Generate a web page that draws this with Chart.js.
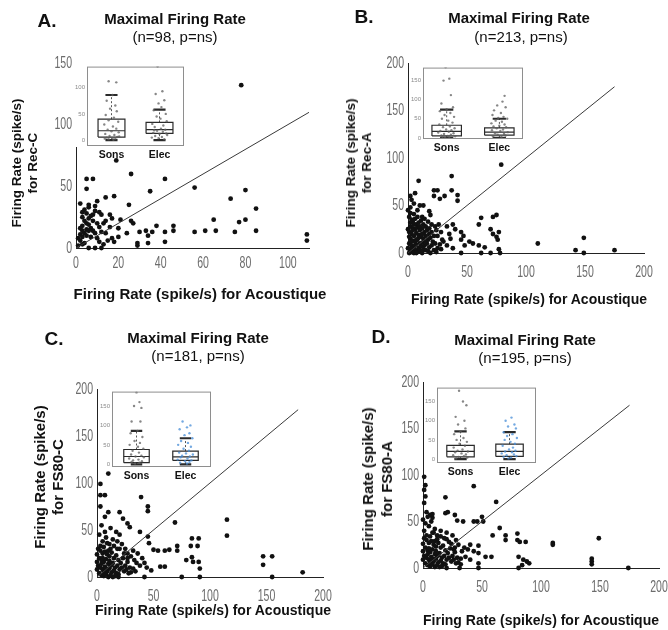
<!DOCTYPE html>
<html>
<head>
<meta charset="utf-8">
<script src="https://cdn.jsdelivr.net/npm/chart.js@4/dist/chart.umd.min.js"></script>
<style>
body { margin: 0; background: #fff; }
#wrap { position: relative; width: 668px; height: 630px; overflow: hidden; font-family: 'Liberation Sans', Arial, sans-serif; color: #111; }
canvas { position: absolute; }
.t { position: absolute; transform: translate(-50%, -50%); white-space: nowrap; z-index: 5; }
.letter { font-weight: bold; font-size: 19px; }
.ttl { font-weight: bold; font-size: 15px; }
.sub { font-size: 15px; }
.xt { font-weight: bold; font-size: 14px; }
.yt { font-weight: bold; font-size: 13.5px; text-align: center; line-height: 16px; transform: translate(-50%, -50%) rotate(-90deg); }
</style>
</head>
<body>
<div id="wrap">
  <canvas id="mainA" width="334" height="300" style="left:0;top:0"></canvas>
  <canvas id="mainB" width="334" height="300" style="left:334px;top:0"></canvas>
  <canvas id="mainC" width="334" height="330" style="left:0;top:300px"></canvas>
  <canvas id="mainD" width="334" height="330" style="left:334px;top:300px"></canvas>
  <canvas id="insetA" width="114" height="103" style="left:74px;top:61px"></canvas>
  <canvas id="insetB" width="117" height="95" style="left:410px;top:62px"></canvas>
  <canvas id="insetC" width="116" height="99" style="left:99px;top:386px"></canvas>
  <canvas id="insetD" width="115" height="99" style="left:425px;top:382px"></canvas>

  <div class="t letter" style="left:47px;top:21px">A.</div>
  <div class="t ttl" style="left:175px;top:18px">Maximal Firing Rate</div>
  <div class="t sub" style="left:175px;top:36px">(n=98, p=ns)</div>
  <div class="t yt" style="left:25px;top:163px">Firing Rate (spike/s)<br>for Rec-C</div>
  <div class="t xt" style="left:200px;top:293px;font-size:15px">Firing Rate (spike/s) for Acoustique</div>

  <div class="t letter" style="left:364px;top:17px">B.</div>
  <div class="t ttl" style="left:519px;top:17px">Maximal Firing Rate</div>
  <div class="t sub" style="left:521px;top:36px">(n=213, p=ns)</div>
  <div class="t yt" style="left:359px;top:163px">Firing Rate (spike/s)<br>for Rec-A</div>
  <div class="t xt" style="left:529px;top:299px">Firing Rate (spike/s) for Acoustique</div>

  <div class="t letter" style="left:54px;top:339px">C.</div>
  <div class="t ttl" style="left:198px;top:337px">Maximal Firing Rate</div>
  <div class="t sub" style="left:198px;top:355px">(n=181, p=ns)</div>
  <div class="t yt" style="left:49px;top:477px;font-size:15px;line-height:18px">Firing Rate (spike/s)<br>for FS80-C</div>
  <div class="t xt" style="left:213px;top:610px">Firing Rate (spike/s) for Acoustique</div>

  <div class="t letter" style="left:381px;top:337px">D.</div>
  <div class="t ttl" style="left:525px;top:339px">Maximal Firing Rate</div>
  <div class="t sub" style="left:525px;top:357px">(n=195, p=ns)</div>
  <div class="t yt" style="left:377px;top:479px;font-size:15px;line-height:19px">Firing Rate (spike/s)<br>for FS80-A</div>
  <div class="t xt" style="left:541px;top:620px">Firing Rate (spike/s) for Acoustique</div>
</div>

<script>
'use strict';

// scatter points: [rate for Acoustique, rate for the other condition]
var ptsA = [
	[78,132],[19,71],[26,60],[5,56],[8,56],[42,56],[5,48],[56,49],[35,46],[80,47],[73,40],[18,42],[14,41],[10,38],[2,36],[25,35],[85,32],
	[6,35],[6,33],[4,31],[9,34],[11,29],[8,27],[3,29],[3,25],[12,27],[7,26],[9,30],[5,28],[6,24],[8,22],[10,20],[13,20],[14,22],[16,27],[17,24],[21,23],[26,22],[27,20],[4,22],[5,20],[6,19],[3,18],[2,16],[11,17],[16,17],[20,16],
	[65,23],[77,21],[80,23],[38,18],[46,18],[46,14],[56,13],[61,14],[66,14],[75,13],[85,14],[109,11],[109,6],[42,13],[42,5],[30,13],[33,14],[34,10],[36,13],[29,4],[34,4],[29,2],[20,9],[17,8],[18,5],[24,12],
	[2,11],[3,9],[1,8],[5,15],[6,14],[7,16],[8,14],[4,12],[5,10],[7,9],[9,12],[10,8],[11,5],[12,13],[14,12],[15,6],[2,6],[3,3],[4,4],[1,2],[13,3],[3,14],[6,0],[9,0],[12,0]
];
var ptsB = [
	[79,93],[37,81],[9,76],[22,66],[25,66],[37,66],[6,63],[22,60],[27,57],[31,60],[42,61],[42,55],[2,60],[3,56],[5,52],[10,50],[13,50],[2,48],[8,45],[18,44],[19,40],[5,41],[12,38],[2,42],
	[62,37],[72,38],[75,40],[60,30],[70,25],[77,22],[72,20],[75,17],[76,14],[45,22],[47,18],[45,14],[52,12],[48,8],[55,10],[60,8],[65,6],[110,10],[149,16],[142,3],[149,0],[175,3],[77,4],[78,0],[62,0],[70,0],[45,0],[40,25],[35,20],[33,28],[38,30],[36,15],[30,12],[33,8],[38,5],[28,22],[25,18],
	[1,38],[3,35],[4,33],[6,36],[7,30],[9,32],[11,34],[13,30],[15,28],[17,33],[20,30],[23,28],[2,28],[4,26],[6,25],[8,27],[10,24],[12,26],[14,22],[16,24],[18,20],[20,22],[22,18],[24,24],
	[1,22],[3,20],[5,18],[7,21],[9,19],[11,17],[13,15],[15,18],[17,14],[19,16],[21,12],[23,10],[2,15],[4,13],[6,12],[8,14],[10,10],[12,11],[14,8],[16,10],[18,6],[20,8],
	[1,10],[3,8],[5,6],[7,9],[9,5],[11,7],[13,4],[15,3],[2,4],[4,2],[6,3],[8,1],[10,2],[12,0],[1,0],[3,1],[5,0],[7,0],[17,2],[19,0],[22,3],[25,5],[27,9],[29,14],
	[2,32],[5,30],[8,38],[14,36],[3,12],[6,8],[9,16],[12,20],[4,24],[7,14],[10,28],[1,17],[15,12],[18,26],[26,30],[0,5],[0,25],[0,45],[24,1],[28,4]
];
var ptsC = [
	[10,110],[3,99],[3,87],[7,87],[39,85],[45,75],[45,70],[3,75],[10,69],[20,69],[69,58],[115,61],[115,44],
	[7,64],[23,62],[27,57],[29,53],[38,48],[45,43],[46,36],[50,29],
	[54,28],[60,28],[64,29],[84,41],[90,41],[89,33],[83,33],[71,33],[71,28],
	[79,18],[84,21],[85,16],[90,16],[91,9],[56,11],[60,11],[48,7],
	[147,22],[155,22],[147,13],[182,5],[155,0],[75,0],[91,0],[42,0],[19,0],
	[4,55],[12,52],[17,48],[20,45],[14,40],[8,42],[5,38],[11,35],[18,38],[22,35],[25,30],[27,25],[30,22],[33,18],[35,15],[38,12],[40,20],[42,15],[44,10],[36,25],[32,28],
	[1,30],[3,28],[5,25],[7,27],[9,24],[11,22],[13,26],[15,20],[17,23],[19,18],[21,15],[23,20],[25,12],[27,16],[29,10],[2,20],[4,18],[6,16],[8,19],[10,14],[12,12],[14,15],[16,10],[18,12],[20,8],[22,10],[24,6],[26,8],[28,4],
	[1,12],[3,10],[5,8],[7,11],[9,6],[11,9],[13,5],[15,7],[17,4],[19,3],[2,4],[4,2],[6,1],[8,3],[10,0],[12,2],[14,0],[16,1],[0,8],[0,16],[0,24],
	[3,33],[6,32],[9,36],[12,30],[15,33],[2,45],[7,48],[10,28],[4,14],[6,6],[8,9],[11,17],[13,13],[5,20],[7,3],[30,5],[32,9],[34,6],[24,25],[20,30],[18,30],[27,20]
];
var ptsD = [
	[43,88],[1,98],[2,89],[1,84],[2,77],[1,70],[19,76],[62,71],
	[21,60],[19,59],[27,57],[29,51],[34,50],[43,50],[46,50],[50,55],[51,50],[4,55],[8,54],[6,57],
	[65,43],[59,35],[70,35],[70,30],[80,37],[80,30],[82,28],[87,28],[110,27],[110,25],[149,32],[143,10],[143,7],[143,4],[174,0],[81,0],[84,3],[81,12],[85,9],[88,7],[90,5],
	[47,24],[43,18],[47,16],[53,12],[58,12],[40,9],[47,5],[31,0],[47,0],[20,0],
	[5,45],[10,42],[15,40],[8,38],[12,35],[20,38],[25,35],[28,30],[22,28],[30,25],[35,22],[33,18],[38,20],[36,12],[32,10],[40,25],[26,20],
	[1,32],[3,30],[5,27],[7,29],[9,25],[11,23],[13,27],[15,22],[17,24],[19,19],[21,16],[23,21],[25,13],[27,17],[29,11],[2,22],[4,19],[6,17],[8,20],[10,15],[12,13],[14,16],[16,11],[18,13],[20,9],[22,11],[24,7],[26,9],[28,5],
	[1,13],[3,11],[5,9],[7,12],[9,7],[11,10],[13,6],[15,8],[17,5],[19,4],[2,5],[4,3],[6,2],[8,4],[10,1],[12,3],[14,1],[16,2],[0,9],[0,18],[0,26],
	[3,35],[6,34],[9,38],[12,31],[15,34],[2,48],[7,50],[10,29],[4,15],[6,7],[8,10],[11,18],[13,14],[5,21],[7,4],[30,6],[32,4],[24,26],[20,31],[18,32],[27,22],[1,40],[0,52],[3,60],[8,58]
];

// tick labels
var xTicksA = [0, 20, 40, 60, 80, 100];
var yTicksA = [0, 50, 100, 150];
var ticks200 = [0, 50, 100, 150, 200];
var insetTicksA = [0, 50, 100];
var insetTicks = [0, 50, 100, 150];
var groups = ['Sons', 'Elec'];

// box plots: [lower whisker, q1, median, q3, upper whisker]
var sonsBoxA = [0, 6, 18, 40, 86];
var elecBoxA = [0, 13, 20, 34, 58];
var sonsBoxB = [0, 5, 17, 33, 74];
var elecBoxB = [0, 7, 15, 26, 50];
var sonsBoxC = [0, 4, 20, 38, 86];
var elecBoxC = [0, 10, 19, 34, 67];
var sonsBoxD = [0, 6, 20, 36, 72];
var elecBoxD = [0, 7, 20, 39, 70];

// inset dots: [offset from group centre, rate]
var sonsPtsA = [[-0.06,112],[0.1,110],[0.02,86],[-0.1,75],[0.08,66],[-0.03,60],[0.11,55],[-0.12,48],[0.05,43],[-0.06,38],[0.14,35],[-0.15,30],[0.03,26],[0.1,22],[-0.08,20],[0,17],[0.15,15],[-0.13,12],[0.06,10],[-0.04,8],[0.12,6],[-0.1,5],[0.02,4],[0.08,3],[-0.06,2],[0.04,1],[-0.14,3],[0.16,7]];
var elecPtsA = [[-0.04,140],[0.06,93],[-0.08,88],[0.1,76],[-0.02,70],[0.04,63],[-0.12,57],[0.13,50],[-0.06,45],[0.02,41],[0.15,36],[-0.15,31],[0.08,28],[-0.1,25],[0.03,22],[0.12,20],[-0.05,18],[0.07,16],[-0.13,14],[0,12],[0.16,10],[-0.09,8],[0.05,6],[-0.02,4],[0.1,2],[-0.16,5],[0.14,13],[-0.11,19]];
var sonsPtsB = [[-0.02,185],[0.05,155],[-0.06,150],[0.08,112],[-0.1,90],[0.12,80],[0,75],[-0.13,70],[0.07,65],[-0.04,60],[0.14,55],[-0.09,50],[0.03,45],[0.11,40],[-0.14,35],[0.06,30],[-0.07,28],[0.15,25],[-0.01,22],[0.09,20],[-0.12,18],[0.04,16],[-0.16,14],[0.13,12],[-0.05,10],[0.08,8],[-0.1,6],[0.02,5],[0.16,4],[-0.08,3],[0.05,2],[-0.03,1]];
var elecPtsB = [[0.1,110],[0.06,95],[-0.04,85],[0.12,80],[-0.1,72],[0.03,65],[-0.13,60],[0.08,55],[-0.02,52],[0.15,50],[-0.07,45],[0.05,42],[-0.15,38],[0.1,35],[0,32],[-0.11,30],[0.13,28],[-0.05,25],[0.07,22],[-0.14,20],[0.02,18],[0.16,15],[-0.08,12],[0.09,10],[-0.03,8],[0.12,6],[-0.12,4],[0.04,2]];
var sonsPtsC = [[0,185],[0.06,160],[-0.05,150],[0.1,145],[-0.1,110],[0.08,110],[0.02,86],[-0.12,80],[0.12,70],[-0.04,60],[0.07,55],[-0.14,50],[0.03,45],[0.14,40],[-0.08,35],[0.05,30],[-0.11,25],[0.1,22],[-0.02,20],[0.15,18],[-0.15,15],[0.04,12],[-0.07,10],[0.11,8],[-0.1,6],[0.06,4],[-0.03,2]];
var elecPtsC = [[-0.06,110],[0.1,100],[0.03,95],[-0.12,90],[0.08,80],[-0.02,75],[0.14,67],[-0.09,60],[0.05,55],[-0.15,50],[0.11,45],[-0.04,40],[0.07,35],[-0.13,30],[0.01,28],[0.15,25],[-0.07,22],[0.09,20],[-0.1,18],[0.04,15],[-0.16,12],[0.12,10],[-0.01,8],[0.08,6],[-0.11,4],[0.03,2]];
var sonsPtsD = [[-0.03,178],[0.05,150],[0.12,140],[-0.1,110],[0.08,100],[-0.05,90],[0.1,80],[0,72],[-0.13,65],[0.06,55],[-0.08,50],[0.13,45],[-0.02,40],[0.09,35],[-0.14,30],[0.04,25],[-0.06,22],[0.15,20],[-0.11,18],[0.02,15],[0.11,12],[-0.15,10],[0.07,8],[-0.04,6],[0.14,4],[-0.09,2]];
var elecPtsD = [[0.04,108],[-0.08,100],[0.1,90],[-0.03,85],[0.13,80],[-0.12,70],[0.06,65],[-0.05,60],[0.15,55],[-0.1,50],[0.02,45],[0.11,40],[-0.14,35],[0.07,30],[-0.01,25],[0.12,22],[-0.09,20],[0.05,18],[-0.16,15],[0.09,12],[-0.06,10],[0.14,8],[-0.12,6],[0.03,4],[-0.02,2]];

var DOT_GREY = 'rgba(95,95,95,0.75)';
var DOT_BLUE = 'rgba(70,140,215,0.75)';

var fixedTicks = function(list) {
	return function(scale) {
		scale.ticks = list.map(function(v) { return { value: v }; });
	};
};

var xy = function(p) { return { x: p[0], y: p[1] }; };

// the original tick labels are a squeezed grey font, so draw them narrowed
var narrowTicks = {
	id: 'narrowTicks',
	afterDraw: function(chart, args, opts) {
		var c = chart.ctx, xs = chart.scales.x, ys = chart.scales.y;
		var put = function(txt, x, y) {
			c.save();
			c.translate(x, y);
			c.scale(0.64, 1);
			c.fillText(txt, 0, 0);
			c.restore();
		};
		c.save();
		c.fillStyle = '#6c6c6c';
		c.font = '16.5px "Liberation Sans", Arial, sans-serif';
		c.textAlign = 'center';
		c.textBaseline = 'top';
		xs.ticks.forEach(function(t) { put(String(t.value), xs.getPixelForValue(t.value), xs.top + opts.gap); });
		c.textAlign = 'right';
		c.textBaseline = 'middle';
		ys.ticks.forEach(function(t) { put(String(t.value), ys.right - 4, ys.getPixelForValue(t.value)); });
		c.restore();
	}
};

// g = {left, right, top, bottom, h, gap} : chart area inside a 334-wide canvas
function mainChart(id, pts, diag, xMax, yMax, xTicks, yTicks, g) {
	var ctx = document.getElementById(id).getContext('2d');
	return new Chart(ctx, {
		type: 'scatter',
		data: {
			datasets: [{
				data: [{ x: 0, y: 0 }, { x: diag, y: diag }],
				showLine: true,
				borderColor: '#3a3a3a',
				borderWidth: 1,
				pointRadius: 0
			}, {
				data: pts.map(xy),
				pointRadius: 2.4,
				pointBackgroundColor: '#111',
				pointBorderWidth: 0,
				clip: false
			}]
		},
		options: {
			responsive: false,
			animation: false,
			devicePixelRatio: 1,
			layout: { padding: { left: 0, right: 334 - g.right, top: g.top, bottom: g.h - g.bottom - 30 } },
			plugins: { legend: { display: false }, tooltip: { enabled: false }, narrowTicks: { gap: g.gap } },
			scales: {
				x: {
					type: 'linear', min: 0, max: xMax,
					grid: { display: false, drawTicks: false },
					border: { display: true, color: '#222', width: 1 },
					afterBuildTicks: fixedTicks(xTicks),
					afterFit: function(s) { s.height = 30; },
					ticks: { display: false }
				},
				y: {
					type: 'linear', min: 0, max: yMax,
					grid: { display: false, drawTicks: false },
					border: { display: true, color: '#222', width: 1 },
					afterBuildTicks: fixedTicks(yTicks),
					afterFit: function(s) { s.width = g.left; },
					ticks: { display: false }
				}
			}
		},
		plugins: [narrowTicks]
	});
}

var insetFrame = {
	id: 'insetFrame',
	beforeDraw: function(chart) {
		var a = chart.chartArea, c = chart.ctx;
		c.save();
		c.fillStyle = '#fff';
		c.fillRect(0, 0, a.right + 1, a.bottom + 1);
		c.restore();
	},
	afterDraw: function(chart) {
		var a = chart.chartArea, c = chart.ctx;
		c.save();
		c.strokeStyle = '#8e8e8e';
		c.lineWidth = 1;
		c.strokeRect(a.left + 0.5, a.top + 0.5, a.right - a.left - 1, a.bottom - a.top - 1);
		c.restore();
	}
};

function boxSets(c, s, hw) {
	var l = c - hw, r = c + hw, cap = hw * 0.45;
	var line = function(pts, w, dash) {
		return { data: pts, showLine: true, borderColor: '#2a2a2a', borderWidth: w, borderDash: dash || [], pointRadius: 0 };
	};
	return [
		line([{ x: l, y: s[1] }, { x: r, y: s[1] }, { x: r, y: s[3] }, { x: l, y: s[3] }, { x: l, y: s[1] }], 1.2),
		line([{ x: l, y: s[2] }, { x: r, y: s[2] }], 1.2),
		line([{ x: c, y: s[3] }, { x: c, y: s[4] }], 0.8, [2, 2]),
		line([{ x: c, y: s[0] }, { x: c, y: s[1] }], 0.8, [2, 2]),
		line([{ x: c - cap, y: s[4] }, { x: c + cap, y: s[4] }], 2.2),
		line([{ x: c - cap, y: s[0] }, { x: c + cap, y: s[0] }], 2.2)
	];
}

function dotSet(centre, pts, colour) {
	return {
		data: pts.map(function(p) { return { x: centre + p[0], y: p[1] }; }),
		pointRadius: 1.2,
		pointBackgroundColor: colour,
		pointBorderWidth: 0
	};
}

// o = {yMin, yMax, xMin, xMax, hw, yW}
function insetChart(id, sBox, eBox, sPts, ePts, eColour, yTicks, o) {
	var ctx = document.getElementById(id).getContext('2d');
	var sets = [dotSet(1, sPts, DOT_GREY), dotSet(2, ePts, eColour)]
		.concat(boxSets(1, sBox, o.hw), boxSets(2, eBox, o.hw));
	return new Chart(ctx, {
		type: 'scatter',
		data: { datasets: sets },
		options: {
			responsive: false,
			animation: false,
			devicePixelRatio: 1,
			layout: { padding: { left: 0, right: 2, top: 2, bottom: 0 } },
			plugins: { legend: { display: false }, tooltip: { enabled: false } },
			scales: {
				x: {
					type: 'linear', min: o.xMin, max: o.xMax,
					grid: { display: false, drawTicks: false },
					border: { display: false },
					afterBuildTicks: fixedTicks([1, 2]),
					afterFit: function(s) { s.height = 18; },
					ticks: {
						color: '#111', padding: 3, maxRotation: 0,
						font: { family: "'Liberation Sans', Arial, sans-serif", size: 10.5, weight: 'bold' },
						callback: function(v) { return groups[v - 1]; }
					}
				},
				y: {
					type: 'linear', min: o.yMin, max: o.yMax,
					grid: { display: false, drawTicks: false },
					border: { display: false },
					afterBuildTicks: fixedTicks(yTicks),
					afterFit: function(s) { s.width = o.yW; },
					ticks: { color: '#8a8a8a', padding: 2, font: { family: "'Liberation Sans', Arial, sans-serif", size: 6 } }
				}
			}
		},
		plugins: [insetFrame]
	});
}

mainChart('mainA', ptsA, 110, 110, 150, xTicksA, yTicksA, { left: 76, right: 309, top: 63, bottom: 248, h: 300, gap: 7 });
mainChart('mainB', ptsB, 175, 200, 200, ticks200, ticks200, { left: 74, right: 310, top: 63, bottom: 253, h: 300, gap: 11 });
mainChart('mainC', ptsC, 178, 200, 200, ticks200, ticks200, { left: 97, right: 323, top: 89, bottom: 277, h: 330, gap: 11 });
mainChart('mainD', ptsD, 175, 200, 200, ticks200, ticks200, { left: 89, right: 325, top: 82, bottom: 268, h: 330, gap: 11 });

insetChart('insetA', sonsBoxA, elecBoxA, sonsPtsA, elecPtsA, DOT_GREY, insetTicksA, { yMin: -11, yMax: 140, xMin: 0.49, xMax: 2.51, hw: 0.28, yW: 13 });
insetChart('insetB', sonsBoxB, elecBoxB, sonsPtsB, elecPtsB, DOT_GREY, insetTicks, { yMin: -3, yMax: 184, xMin: 0.55, xMax: 2.45, hw: 0.28, yW: 13 });
insetChart('insetC', sonsBoxC, elecBoxC, sonsPtsC, elecPtsC, DOT_BLUE, insetTicks, { yMin: -7, yMax: 187, xMin: 0.5, xMax: 2.52, hw: 0.26, yW: 13 });
insetChart('insetD', sonsBoxD, elecBoxD, sonsPtsD, elecPtsD, DOT_BLUE, insetTicks, { yMin: -10, yMax: 186, xMin: 0.52, xMax: 2.54, hw: 0.28, yW: 12 });
</script>
</body>
</html>
